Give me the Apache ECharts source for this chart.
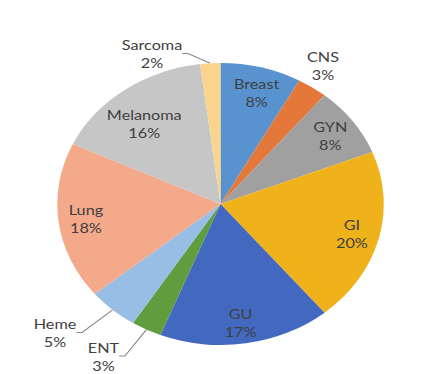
<!DOCTYPE html>
<html><head><meta charset="utf-8">
<script src="https://cdn.jsdelivr.net/npm/echarts@6/dist/echarts.min.js"></script>
<style>
html,body{margin:0;padding:0;background:#fff;overflow:hidden;}
#wrap{width:426px;height:374px;overflow:hidden;position:relative;}
#chart{width:368px;height:374px;transform:scaleX(1.1576);transform-origin:0 0;}
</style></head>
<body><div id="wrap"><div id="chart"></div></div>
<script>
// data
const categories = ['Breast', 'CNS', 'GYN', 'GI', 'GU', 'ENT', 'Heme', 'Lung', 'Melanoma', 'Sarcoma'];
const shares = [8, 3, 8, 20, 17, 3, 5, 18, 16, 2];
const sliceColors = ['#5893d0', '#e4773a', '#a0a0a0', '#efb21a', '#4368bf', '#5f9d3f', '#98bee6', '#f3a98a', '#c6c6c6', '#fad48e'];
// labels placed outside the pie (centre of the text block, chart px before the horizontal stretch)
const outsideLabelSpots = {
  Sarcoma: [131.3, 53.5],
  CNS: [279.0, 65.5],
  Heme: [47.5, 332.5],
  ENT: [89.4, 356.0]
};
const noLeaderLine = ['CNS'];
// small nudges of inside labels (px)
const innerLabelNudges = {
  Melanoma: [3, 14],
  Breast: [2, 2],
  GU: [-1, 3]
};

const chart = echarts.init(document.getElementById('chart'), null, {renderer: 'svg'});
const CENTER = [190.5, 204];
const R = 141;
const textStyle = {fontFamily: 'Lato, "Liberation Sans", sans-serif', fontSize: 14, lineHeight: 18, color: '#404040'};

const mainData = categories.map((name, i) => {
  const outside = outsideLabelSpots[name] !== undefined;
  return {
    name: name,
    value: shares[i],
    itemStyle: {color: sliceColors[i]},
    label: {show: outside},
    labelLine: {show: outside && noLeaderLine.indexOf(name) < 0}
  };
});
const innerLabelData = categories.map((name, i) => ({
  name: name,
  value: shares[i],
  label: {show: outsideLabelSpots[name] === undefined}
}));

chart.setOption({
  animation: false,
  series: [
    {
      type: 'pie',
      center: CENTER,
      radius: R,
      startAngle: 90,
      clockwise: true,
      avoidLabelOverlap: false,
      emphasis: {disabled: true},
      itemStyle: {borderWidth: 0},
      label: Object.assign({position: 'outside', formatter: '{b}\n{c}%', align: 'center'}, textStyle),
      labelLine: {length: 8, length2: 5, smooth: false, lineStyle: {color: '#8a8a8a', width: 1}},
      labelLayout: function (p) {
        const spot = outsideLabelSpots[categories[p.dataIndex]];
        if (!spot) return {};
        return {x: spot[0], y: spot[1], align: 'center', verticalAlign: 'middle'};
      },
      data: mainData
    },
    {
      type: 'pie',
      center: CENTER,
      radius: [R * 0.62, R],
      startAngle: 90,
      clockwise: true,
      silent: true,
      avoidLabelOverlap: false,
      emphasis: {disabled: true},
      itemStyle: {color: 'rgba(0,0,0,0)', borderWidth: 0},
      label: Object.assign({position: 'inside', formatter: '{b}\n{c}%'}, textStyle),
      labelLine: {show: false},
      labelLayout: function (p) {
        const n = innerLabelNudges[categories[p.dataIndex]];
        if (!n) return {};
        return {dx: n[0], dy: n[1]};
      },
      data: innerLabelData
    }
  ]
});
</script></body></html>
